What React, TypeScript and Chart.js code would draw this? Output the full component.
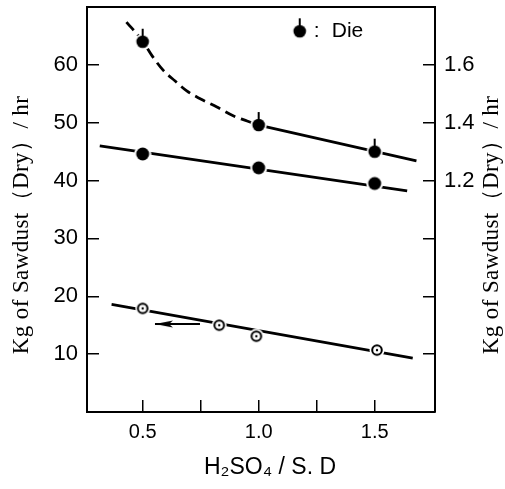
import React, { useEffect, useRef } from "react";
import { Chart, registerables } from "chart.js";

Chart.register(...registerables);

// ---- data ----
const dieX = [0.5, 1.0, 1.5];
const dieY = [64.0, 49.6, 45.0];

const dieFitDashX = [0.43, 0.5, 0.54, 0.59, 0.64, 0.69, 0.75, 0.82, 0.89, 0.95, 1.0];
const dieFitDashY = [67.4, 64.1, 61.6, 59.0, 57.2, 55.5, 54.1, 52.7, 51.2, 50.3, 49.6];
const dieFitSolidX = [1.0, 1.68];
const dieFitSolidY = [49.6, 43.4];

const fullX = [0.5, 1.0, 1.5];
const fullY = [44.6, 42.2, 39.5];
const fullFitX = [0.315, 1.64];
const fullFitY = [46.0, 38.2];

const openX = [0.5, 0.83, 0.99, 1.51];
const openY = [17.9, 15.0, 13.1, 10.7];
const openFitX = [0.366, 1.664];
const openFitY = [18.6, 9.3];

const arrowX = [0.747, 0.553];
const arrowY = [15.2, 15.2];

const legendPos = [1.177, 65.8];
const legendSep = ":";
const legendLabel = "Die";

const xTicks = [0.5, 0.75, 1.0, 1.25, 1.5];
const xLabelled = [0.5, 1.0, 1.5];
const leftTicks = [10, 20, 30, 40, 50, 60];
const rightTicks = [0.6, 0.8, 1.0, 1.2, 1.4, 1.6];
const rightLabelled = [1.2, 1.4, 1.6];

const yTitle = "Kg of Sawdust（Dry）/ hr";
const xTitle = "H₂SO₄ / S. D";

const zip = (xs: number[], ys: number[]) => xs.map((x, i) => ({ x, y: ys[i] }));

function makeCanvas(w: number, h: number) {
  const c = document.createElement("canvas");
  c.width = w;
  c.height = h;
  return c;
}

function dieMarker() {
  const c = makeCanvas(18, 30);
  const g = c.getContext("2d")!;
  const cx = 9, cy = 15;
  g.fillStyle = "#fff";
  g.beginPath(); g.arc(cx, cy, 8, 0, Math.PI * 2); g.fill();
  g.fillStyle = "#000";
  g.beginPath(); g.arc(cx, cy, 6.3, 0, Math.PI * 2); g.fill();
  g.fillRect(cx - 1, cy - 13, 2, 8);
  return c;
}

function fullMarker() {
  const c = makeCanvas(18, 18);
  const g = c.getContext("2d")!;
  g.fillStyle = "#fff";
  g.beginPath(); g.arc(9, 9, 8.5, 0, Math.PI * 2); g.fill();
  g.fillStyle = "#000";
  g.beginPath(); g.arc(9, 9, 6.5, 0, Math.PI * 2); g.fill();
  return c;
}

function openMarker() {
  const c = makeCanvas(16, 16);
  const g = c.getContext("2d")!;
  g.fillStyle = "#fff";
  g.beginPath(); g.arc(8, 8, 7.5, 0, Math.PI * 2); g.fill();
  g.strokeStyle = "#000";
  g.lineWidth = 2;
  g.beginPath(); g.arc(8, 8, 4.8, 0, Math.PI * 2); g.stroke();
  g.fillStyle = "#000";
  g.beginPath(); g.arc(8, 8, 1.2, 0, Math.PI * 2); g.fill();
  return c;
}

function arrowHead() {
  // tip at the image centre, pointing left
  const c = makeCanvas(38, 10);
  const g = c.getContext("2d")!;
  g.fillStyle = "#000";
  g.beginPath();
  g.moveTo(19, 5);
  g.lineTo(37, 1.5);
  g.lineTo(33, 5);
  g.lineTo(37, 8.5);
  g.closePath();
  g.fill();
  return c;
}

const tickFont = "'Liberation Sans', sans-serif";

export default function App() {
  const ref = useRef<HTMLCanvasElement>(null);

  useEffect(() => {
    const die = dieMarker();
    const full = fullMarker();
    const open = openMarker();
    const arrow = arrowHead();

    const titles = {
      id: "titles",
      afterDraw(chart: any) {
        const ctx = chart.ctx as CanvasRenderingContext2D;
        const xs = chart.scales.x;
        const ys = chart.scales.y;
        const a = chart.chartArea;
        ctx.save();
        // top frame line
        ctx.strokeStyle = "#000";
        ctx.lineWidth = 2;
        ctx.beginPath();
        ctx.moveTo(a.left - 1, a.top);
        ctx.lineTo(a.right + 1, a.top);
        ctx.stroke();

        ctx.fillStyle = "#000";
        ctx.textAlign = "center";
        ctx.textBaseline = "middle";
        ctx.font = "23px 'Liberation Serif', serif";
        (ctx as any).letterSpacing = "0.4px";
        ctx.save();
        ctx.translate(22, 225);
        ctx.rotate(-Math.PI / 2);
        ctx.fillText(yTitle, 0, 0);
        ctx.restore();
        ctx.save();
        ctx.translate(492, 225);
        ctx.rotate(-Math.PI / 2);
        ctx.fillText(yTitle, 0, 0);
        ctx.restore();
        (ctx as any).letterSpacing = "0px";
        ctx.font = "23px 'Liberation Sans', 'DejaVu Sans', sans-serif";
        ctx.fillText(xTitle, 270, 468);
        // legend
        const lx = xs.getPixelForValue(legendPos[0]);
        const ly = ys.getPixelForValue(legendPos[1]);
        ctx.drawImage(die, lx - die.width / 2, ly - die.height / 2);
        ctx.textAlign = "left";
        ctx.font = "21px 'Liberation Sans', sans-serif";
        ctx.fillText(legendSep, lx + 14, ly);
        ctx.fillText(legendLabel, lx + 32, ly);
        ctx.restore();
      },
    };

    const lineDs = (data: any[], dash: number[] = []) => ({
      data,
      showLine: true,
      borderColor: "#000",
      borderWidth: 2.8,
      borderDash: dash,
      pointRadius: 0,
      fill: false,
    });

    const gridOpts = { drawOnChartArea: false, drawTicks: true, tickLength: -12, color: "#000", lineWidth: 1.5 };
    const borderOpts = { display: true, color: "#000", width: 2 };
    const fixV = (w: number) => (s: any) => {
      s.width = w;
      s.paddingTop = 0;
      s.paddingBottom = 0;
    };

    const chart = new Chart(ref.current!, {
      type: "scatter",
      data: {
        datasets: [
          { data: zip(dieX, dieY), pointStyle: die as any, pointRadius: 6, showLine: false },
          { data: zip(fullX, fullY), pointStyle: full as any, pointRadius: 6, showLine: false },
          { data: zip(openX, openY), pointStyle: open as any, pointRadius: 5, showLine: false },
          { ...lineDs(zip(dieFitDashX, dieFitDashY), [11, 6]), tension: 0.4, cubicInterpolationMode: "monotone" },
          lineDs(zip(dieFitSolidX, dieFitSolidY)),
          lineDs(zip(fullFitX, fullFitY)),
          lineDs(zip(openFitX, openFitY)),
          {
            ...lineDs(zip(arrowX, arrowY)),
            borderWidth: 2,
            pointStyle: arrow as any,
            pointRadius: (c: any) => (c.dataIndex === 1 ? 5 : 0),
          },
        ] as any,
      },
      options: {
        animation: false,
        responsive: false,
        events: [],
        layout: { padding: { top: 7, left: 0, right: 0, bottom: 0 } },
        plugins: { legend: { display: false }, tooltip: { enabled: false } },
        scales: {
          x: {
            type: "linear",
            position: "bottom",
            min: 0.26,
            max: 1.76,
            afterBuildTicks: (s: any) => { s.ticks = xTicks.map((v) => ({ value: v })); },
            afterFit: (s: any) => {
              s.height = 77;
              s.paddingLeft = 0;
              s.paddingRight = 0;
            },
            ticks: {
              color: "#000",
              font: { family: tickFont, size: 20 },
              padding: 20,
              maxRotation: 0,
              callback: (v: any) => (xLabelled.includes(Number(v)) ? Number(v).toFixed(1) : ""),
            },
            grid: gridOpts,
            border: borderOpts,
          },
          y: {
            type: "linear",
            position: "left",
            min: 0,
            max: 70,
            afterBuildTicks: (s: any) => { s.ticks = leftTicks.map((v) => ({ value: v })); },
            afterFit: fixV(87),
            ticks: {
              color: "#000",
              font: { family: tickFont, size: 22 },
              padding: 21,
              callback: (v: any) => String(v),
            },
            grid: gridOpts,
            border: borderOpts,
          },
          y2: {
            type: "linear",
            position: "right",
            min: 0.4,
            max: 1.8,
            afterBuildTicks: (s: any) => { s.ticks = rightTicks.map((v) => ({ value: v })); },
            afterFit: fixV(70),
            ticks: {
              color: "#000",
              font: { family: tickFont, size: 22 },
              padding: 21,
              callback: (v: any) =>
                rightLabelled.some((r) => Math.abs(r - Number(v)) < 1e-6) ? Number(v).toFixed(1) : "",
            },
            grid: gridOpts,
            border: borderOpts,
          },
        },
      } as any,
      plugins: [titles],
    });
    return () => chart.destroy();
  }, []);

  return (
    <div style={{ position: "fixed", left: 0, top: 0, width: 505, height: 489, background: "#fff" }}>
      <canvas ref={ref} width={505} height={489} style={{ display: "block" }} />
    </div>
  );
}
